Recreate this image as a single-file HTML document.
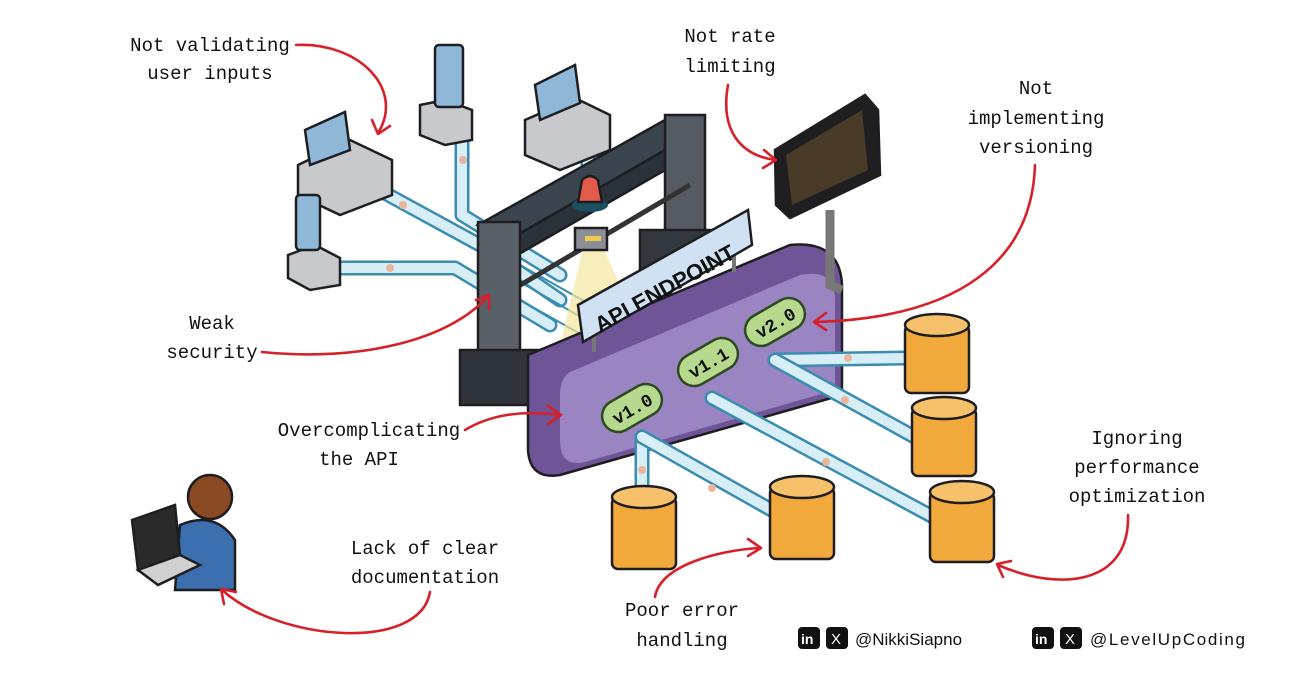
<!DOCTYPE html>
<html><head><meta charset="utf-8"><style>
html,body{margin:0;padding:0;background:#fff;}
svg{display:block;}
text{font-family:"Liberation Mono",monospace;fill:#111;}
.lbl{font-size:19px;text-anchor:middle;}
.po{fill:none;stroke:#3a8cb0;stroke-width:15;stroke-linejoin:round;stroke-linecap:round;}
.pi{fill:none;stroke:#d8eef7;stroke-width:10;stroke-linejoin:round;stroke-linecap:round;}
.ar{fill:none;stroke:#d6202a;stroke-width:2.6;stroke-linecap:round;}
.ah{fill:none;stroke:#d6202a;stroke-width:2.6;stroke-linecap:round;stroke-linejoin:round;}
.dk{stroke:#1e1e22;stroke-width:2.5;}
</style></head><body>
<svg width="1292" height="678" viewBox="0 0 1292 678">
<!-- pipes from devices -->
<path class="po" d="M370,185 L480,245 L560,300"/><path class="pi" d="M370,185 L480,245 L560,300"/>
<path class="po" d="M335,268 L455,268 L550,325"/><path class="pi" d="M335,268 L455,268 L550,325"/>
<path class="po" d="M462,120 L462,215 L560,275"/><path class="pi" d="M462,120 L462,215 L560,275"/>
<path class="po" d="M588,140 L588,175"/><path class="pi" d="M588,140 L588,175"/>
<path d="M520,265 L600,310 M520,282 L600,328 M520,300 L600,345" stroke="#3a8cb0" stroke-width="2" fill="none"/>
<!-- yellow scan beam -->
<polygon points="585,240 600,240 640,330 560,345" fill="#f5e7a0" opacity="0.7"/>
<!-- gate -->
<polygon points="478,225 665,120 700,130 512,238" fill="#3b4550" class="dk"/>
<polygon points="512,238 700,130 700,150 512,258" fill="#2a323a" class="dk"/>
<rect x="665" y="115" width="40" height="125" fill="#555b63" class="dk"/>
<rect x="640" y="230" width="70" height="40" fill="#33383e" class="dk"/>
<line x1="512" y1="290" x2="690" y2="185" stroke="#333" stroke-width="5"/>
<rect x="478" y="222" width="42" height="150" fill="#5a6068" class="dk"/>
<polygon points="460,350 545,350 545,405 460,405" fill="#30353b" class="dk"/>
<ellipse cx="590" cy="205" rx="18" ry="7" fill="#1c5060"/>
<path d="M578,202 L582,180 Q590,172 598,180 L602,202 Z" fill="#e25a4a" class="dk"/>
<rect x="575" y="228" width="32" height="22" fill="#8a8f96" class="dk"/>
<rect x="585" y="236" width="16" height="5" fill="#f2c94c"/>
<!-- purple box -->
<path d="M528,355 L790,245 Q840,240 842,285 L842,395 L560,475 Q530,480 528,450 Z" fill="#6f5597" class="dk"/>
<path d="M570,372 L800,275 Q835,268 835,300 L835,390 L585,462 Q560,468 560,440 L560,395 Q560,378 570,372 Z" fill="#9b84c2"/>
<!-- API endpoint sign -->
<line x1="594" y1="330" x2="594" y2="352" stroke="#777" stroke-width="4"/>
<line x1="734" y1="255" x2="734" y2="272" stroke="#777" stroke-width="4"/>
<polygon points="578,305 748,210 752,245 583,342" fill="#cfe1f2" class="dk"/>
<text font-size="22" font-weight="bold" transform="translate(600,333) rotate(-29)" style="font-family:'Liberation Sans',sans-serif">API ENDPOINT</text>
<!-- version pills -->
<g transform="translate(632,408) rotate(-30)"><rect x="-32" y="-16" width="64" height="32" rx="16" fill="#b7d98e" stroke="#2d4a20" stroke-width="2.5"/><text x="0" y="7" font-size="18" font-weight="bold" text-anchor="middle">v1.0</text></g>
<g transform="translate(708,362) rotate(-30)"><rect x="-32" y="-16" width="64" height="32" rx="16" fill="#b7d98e" stroke="#2d4a20" stroke-width="2.5"/><text x="0" y="7" font-size="18" font-weight="bold" text-anchor="middle">v1.1</text></g>
<g transform="translate(775,322) rotate(-30)"><rect x="-32" y="-16" width="64" height="32" rx="16" fill="#b7d98e" stroke="#2d4a20" stroke-width="2.5"/><text x="0" y="7" font-size="18" font-weight="bold" text-anchor="middle">v2.0</text></g>
<!-- pipes to dbs -->
<path class="po" d="M775,360 L905,358"/><path class="pi" d="M775,360 L905,358"/>
<path class="po" d="M775,360 L920,440"/><path class="pi" d="M775,360 L920,440"/>
<path class="po" d="M712,398 L935,518"/><path class="pi" d="M712,398 L935,518"/>
<path class="po" d="M642,437 L642,495"/><path class="pi" d="M642,437 L642,495"/>
<path class="po" d="M642,437 L775,512"/><path class="pi" d="M642,437 L775,512"/>
<g fill="#e8b69a"><circle cx="403" cy="205" r="4"/><circle cx="390" cy="268" r="4"/><circle cx="463" cy="160" r="4"/><circle cx="848" cy="358" r="4"/><circle cx="845" cy="400" r="4"/><circle cx="826" cy="462" r="4"/><circle cx="642" cy="470" r="4"/><circle cx="712" cy="488" r="4"/></g>
<!-- monitor -->
<path d="M830,210 L830,285 L842,290" stroke="#777" stroke-width="9" fill="none"/>
<polygon points="775,150 865,95 878,110 880,175 790,218 776,205" fill="#1f1f22" class="dk"/>
<polygon points="786,155 862,110 868,170 792,205" fill="#4a3a28"/>
<!-- devices -->
<g class="dk">
<polygon points="298,165 350,140 392,160 392,195 340,215 298,195" fill="#c7c9cc"/>
<polygon points="305,130 345,112 350,150 310,165" fill="#8fb8d8"/>
<polygon points="288,255 315,245 340,258 340,285 310,290 288,278" fill="#c7c9cc"/>
<rect x="296" y="195" width="24" height="55" rx="4" fill="#8fb8d8"/>
<polygon points="420,105 445,100 472,110 472,140 445,145 420,135" fill="#c7c9cc"/>
<rect x="435" y="45" width="28" height="62" rx="4" fill="#8fb8d8"/>
<polygon points="525,120 575,98 610,115 610,150 560,170 525,155" fill="#c7c9cc"/>
<polygon points="535,85 575,65 580,103 540,120" fill="#8fb8d8"/>
</g>
<!-- databases -->
<g class="dk" fill="#f2a93b">
<rect x="905" y="325" width="64" height="68" rx="6"/><ellipse cx="937" cy="325" rx="32" ry="11" fill="#f7c06a"/>
<rect x="912" y="408" width="64" height="68" rx="6"/><ellipse cx="944" cy="408" rx="32" ry="11" fill="#f7c06a"/>
<rect x="930" y="492" width="64" height="70" rx="6"/><ellipse cx="962" cy="492" rx="32" ry="11" fill="#f7c06a"/>
<rect x="612" y="497" width="64" height="72" rx="6"/><ellipse cx="644" cy="497" rx="32" ry="11" fill="#f7c06a"/>
<rect x="770" y="487" width="64" height="72" rx="6"/><ellipse cx="802" cy="487" rx="32" ry="11" fill="#f7c06a"/>
</g>
<!-- person -->
<circle cx="210" cy="497" r="22" fill="#8a4a24" class="dk"/>
<path d="M180,525 Q215,510 235,540 L235,590 L175,590 Z" fill="#3b6fae" class="dk"/>
<polygon points="132,520 175,505 180,555 138,570" fill="#2a2a2a" class="dk"/>
<polygon points="138,570 180,555 200,565 158,585" fill="#d0d0d0" class="dk"/>
<!-- labels -->
<text class="lbl" x="210" y="51">Not validating</text><text class="lbl" x="210" y="79">user inputs</text>
<text class="lbl" x="730" y="42">Not rate</text><text class="lbl" x="730" y="72">limiting</text>
<text class="lbl" x="1036" y="94">Not</text><text class="lbl" x="1036" y="124">implementing</text><text class="lbl" x="1036" y="153">versioning</text>
<text class="lbl" x="212" y="329">Weak</text><text class="lbl" x="212" y="358">security</text>
<text class="lbl" x="369" y="436">Overcomplicating</text><text class="lbl" x="359" y="465">the API</text>
<text class="lbl" x="1137" y="444">Ignoring</text><text class="lbl" x="1137" y="473">performance</text><text class="lbl" x="1137" y="502">optimization</text>
<text class="lbl" x="425" y="554">Lack of clear</text><text class="lbl" x="425" y="583">documentation</text>
<text class="lbl" x="682" y="616">Poor error</text><text class="lbl" x="682" y="646">handling</text>
<!-- arrows -->
<path class="ar" d="M296,45 C360,42 405,90 378,133"/><path class="ah" d="M372,120 L378,134 L390,126"/>
<path class="ar" d="M728,85 C720,130 740,155 775,160"/><path class="ah" d="M764,150 L776,160 L763,168"/>
<path class="ar" d="M1035,165 C1032,260 960,318 815,322"/><path class="ah" d="M826,313 L814,322 L826,330"/>
<path class="ar" d="M262,352 C360,362 450,340 488,296"/><path class="ah" d="M476,300 L489,295 L489,309"/>
<path class="ar" d="M465,430 C490,415 520,410 560,415"/><path class="ah" d="M548,406 L561,415 L548,424"/>
<path class="ar" d="M1128,515 C1130,585 1060,592 998,565"/><path class="ah" d="M1003,577 L997,564 L1011,561"/>
<path class="ar" d="M430,592 C420,652 280,642 222,590"/><path class="ah" d="M224,604 L221,589 L236,592"/>
<path class="ar" d="M655,597 C660,565 720,550 760,548"/><path class="ah" d="M748,539 L761,548 L748,556"/>
<!-- footer -->
<rect x="798" y="627" width="22" height="22" rx="4" fill="#111"/><text x="801" y="644" font-size="14" font-weight="bold" style="fill:#fff;font-family:'Liberation Sans',sans-serif">in</text>
<rect x="826" y="627" width="22" height="22" rx="4" fill="#111"/><text x="831" y="644" font-size="15" style="fill:#fff;font-family:'Liberation Sans',sans-serif">X</text>
<text x="855" y="645" font-size="17" style="font-family:'Liberation Sans',sans-serif">@NikkiSiapno</text>
<rect x="1032" y="627" width="22" height="22" rx="4" fill="#111"/><text x="1035" y="644" font-size="14" font-weight="bold" style="fill:#fff;font-family:'Liberation Sans',sans-serif">in</text>
<rect x="1060" y="627" width="22" height="22" rx="4" fill="#111"/><text x="1065" y="644" font-size="15" style="fill:#fff;font-family:'Liberation Sans',sans-serif">X</text>
<text x="1090" y="645" font-size="17" style="font-family:'Liberation Sans',sans-serif" textLength="155">@LevelUpCoding</text>
</svg>
</body></html>
